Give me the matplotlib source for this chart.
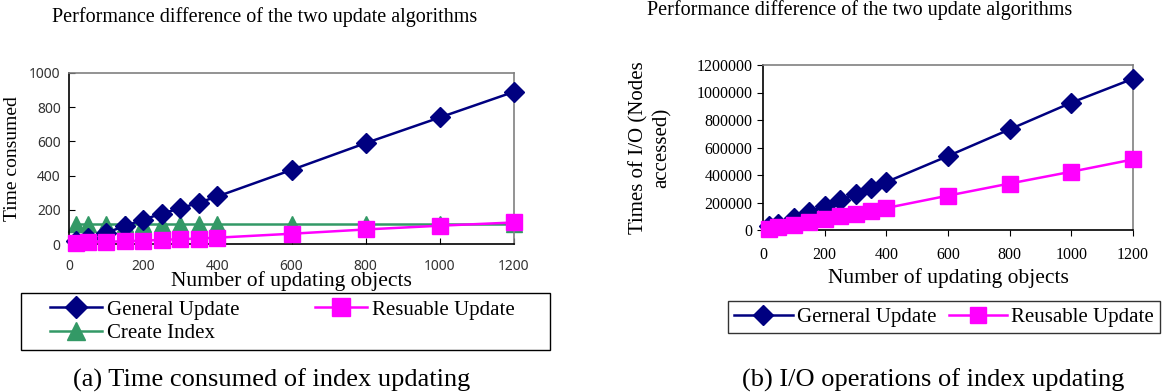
import matplotlib
matplotlib.use("Agg")
import matplotlib.pyplot as plt
from matplotlib.patches import Rectangle
from matplotlib.ticker import FuncFormatter

# ---------- data ----------
n_objects = [20, 50, 100, 150, 200, 250, 300, 350, 400, 600, 800, 1000, 1200]

# (a) time consumed
time_general = [20, 38, 65, 105, 142, 178, 208, 242, 278, 433, 590, 740, 890]
time_reusable = [8, 10, 13, 16, 20, 24, 28, 32, 37, 60, 85, 107, 126]
time_create = [118, 118, 118, 118, 118, 118, 118, 118, 118, 118, 118, 118, 118]

# (b) I/O operations
io_general = [29000, 44000, 90000, 131000, 175000, 216000, 259000, 303000,
              349000, 538000, 732000, 926000, 1100000]
io_reusable = [8000, 20000, 40000, 60000, 80000, 100000, 120000, 140000,
               160000, 250000, 338000, 424000, 513000]

title_txt = "Performance difference of the two update algorithms"
xlabel_txt = "Number of updating objects"

NAVY = "#000080"
MAGENTA = "#FF00FF"
GREEN = "#339966"
SERIF = "Liberation Serif"
W, H = 1165, 392

def fx(px):
    return px / W

def fy(py):
    return 1 - py / H

fig = plt.figure(figsize=(11.65, 3.92), dpi=100)

# ---------- (a) ----------
ax1 = fig.add_axes([fx(69), fy(244), 445/W, 171/H])
l1, = ax1.plot(n_objects, time_general, color=NAVY, marker="D", ms=10, lw=1.8, clip_on=False, zorder=3)
l2, = ax1.plot(n_objects, time_reusable, color=MAGENTA, marker="s", ms=12, lw=1.8, clip_on=False, zorder=4)
l3, = ax1.plot(n_objects, time_create, color=GREEN, marker="^", ms=12, lw=1.8, clip_on=False, zorder=2)
ax1.set_xlim(0, 1200)
ax1.set_ylim(0, 1000)
ax1.set_xticks(range(0, 1201, 200))
ax1.set_yticks(range(0, 1001, 200))
ax1.tick_params(direction="in", length=4, labelsize=10, labelcolor="#333333", pad=6)
ax1.tick_params(axis="x", pad=11)
for lab in ax1.get_xticklabels() + ax1.get_yticklabels():
    lab.set_family("Noto Sans")
ax1.spines["top"].set_color("#808080")
ax1.spines["right"].set_color("#808080")
for s in ax1.spines.values():
    s.set_linewidth(1.2)
ax1.set_xlabel(xlabel_txt, family=SERIF, fontsize=15.5, labelpad=-2)
ax1.set_ylabel("Time consumed", family=SERIF, fontsize=14, labelpad=6)
fig.text(fx(52), fy(17), title_txt, family=SERIF, fontsize=14.5, ha="left", va="center")

# legend box drawn separately so the entries can sit with a wide left margin
fig.patches.append(Rectangle((fx(21), fy(350)), 529/W, 57/H, transform=fig.transFigure,
                             facecolor="none", edgecolor="black", lw=1.0))
fig.legend([l1, l3, l2], ["General Update", "Create Index", "Resuable Update"],
           ncol=2, loc="upper left", bbox_to_anchor=(fx(50), fy(300)),
           prop={"family": SERIF, "size": 15}, frameon=False,
           handlelength=2.5, columnspacing=3.6,
           borderaxespad=0, borderpad=0, labelspacing=0.2, handletextpad=0.25,
           markerscale=1.1)
fig.text(fx(272), fy(380), "(a) Time consumed of index updating",
         family=SERIF, fontsize=19, ha="center", va="center")

# ---------- (b) ----------
ax2 = fig.add_axes([fx(763), fy(230), 370/W, 165/H])
m1, = ax2.plot(n_objects, io_general, color=NAVY, marker="D", ms=10, lw=1.8, clip_on=False, zorder=3)
m2, = ax2.plot(n_objects, io_reusable, color=MAGENTA, marker="s", ms=12, lw=1.8, clip_on=False, zorder=4)
ax2.set_xlim(0, 1200)
ax2.set_ylim(0, 1200000)
ax2.set_xticks(range(0, 1201, 200))
ax2.set_yticks(range(0, 1200001, 200000))
ax2.yaxis.set_major_formatter(FuncFormatter(lambda v, p: f"{int(v)}"))
ax2.tick_params(direction="out", length=4, labelsize=11.5)
ax2.tick_params(axis="x", pad=8)
for lab in ax2.get_xticklabels() + ax2.get_yticklabels():
    lab.set_family(SERIF)
ax2.spines["top"].set_color("#808080")
ax2.spines["right"].set_color("#808080")
for s in ax2.spines.values():
    s.set_linewidth(1.2)
ax2.set_xlabel(xlabel_txt, family=SERIF, fontsize=15.5, labelpad=4)
ax2.set_ylabel("Times of I/O (Nodes\naccessed)", family=SERIF, fontsize=15,
               labelpad=18, linespacing=1.25)
fig.text(fx(860), fy(10), title_txt, family=SERIF, fontsize=14.5, ha="center", va="center")

fig.legend([m1, m2], ["Gerneral Update", "Reusable Update"],
           ncol=2, loc="upper left", bbox_to_anchor=(fx(728), fy(301)),
           prop={"family": SERIF, "size": 15}, frameon=True, fancybox=False,
           edgecolor="black", handlelength=2.8, columnspacing=0.6,
           borderaxespad=0, borderpad=0.3, handletextpad=0.2)
fig.legends[-1].get_frame().set_linewidth(1.0)
fig.text(fx(933), fy(380), "(b) I/O operations of index updating",
         family=SERIF, fontsize=19, ha="center", va="center")

fig.savefig("out.png", dpi=100)
